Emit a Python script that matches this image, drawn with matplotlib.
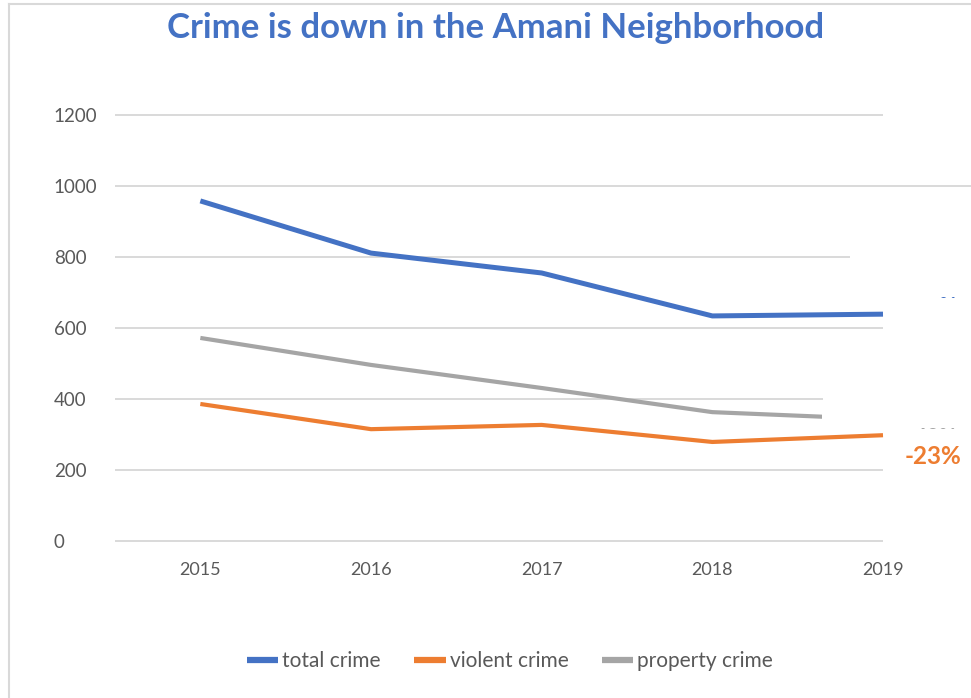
import numpy as np
import matplotlib.pyplot as plt
from matplotlib.patches import Rectangle

years = ["2015", "2016", "2017", "2018", "2019"]
total_crime = [958, 811, 755, 634, 639]
violent_crime = [386, 315, 327, 279, 298]
property_crime = [572, 496, 431, 363, 343]

BLUE = "#4472C4"
ORANGE = "#ED7D31"
GRAY = "#A5A5A5"
TEXT = "#595959"
GRID = "#D9D9D9"

plt.rcParams['font.family'] = ['Lato', 'DejaVu Sans']

fig = plt.figure(figsize=(9.71, 6.98), dpi=100)
W, H = 971, 698


def fx(px):
    return px / W


def fy(py):
    return 1 - py / H


ax = fig.add_axes([fx(115), fy(541), fx(883) - fx(115), fy(115) - fy(541)])
ax.set_xlim(-0.5, 4.0)
ax.set_ylim(0, 1200)
for s in ax.spines.values():
    s.set_visible(False)

x = np.arange(len(years))
to_data = lambda px: (px - 200) / 170.75

# gridlines end at uneven places
grid_ends = {0: 4.0, 200: 4.0, 400: to_data(823), 600: 4.0,
             800: to_data(850), 1000: to_data(975), 1200: 4.0}
for yv, xe in grid_ends.items():
    ax.plot([-0.5, xe], [yv, yv], color=GRID, lw=1.4, zorder=1,
            clip_on=False, solid_capstyle='butt')

ax.plot(x, total_crime, color=BLUE, lw=3.6, zorder=3, label="total crime",
        solid_capstyle='butt', clip_on=False)
ax.plot(x, violent_crime, color=ORANGE, lw=3.0, zorder=3, label="violent crime",
        solid_capstyle='butt', clip_on=False)
prop_line, = ax.plot(x, property_crime, color=GRAY, lw=3.0, zorder=3,
                     label="property crime", solid_capstyle='butt')
clip = Rectangle((-0.5, 0), to_data(822) + 0.5, 1200, transform=ax.transData)
prop_line.set_clip_path(clip)

ax.set_xticks(x)
ax.set_xticklabels(years)
ax.set_yticks(range(0, 1201, 200))
ax.tick_params(length=0, colors=TEXT)
ax.tick_params(axis='x', pad=15, labelsize=13)
ax.tick_params(axis='y', pad=44, labelsize=13.5)
for lbl in ax.get_yticklabels():
    lbl.set_horizontalalignment('left')

# end-of-line change labels
pct = round((violent_crime[-1] - violent_crime[0]) / violent_crime[0] * 100)
fig.text(fx(933), fy(457), f"{pct}%", color=ORANGE, fontsize=17.5,
         fontweight='bold', ha='center', va='center')

# partly hidden labels, only a sliver shows
pct_t = round((total_crime[-1] - total_crime[0]) / total_crime[0] * 100)
t1 = fig.text(fx(932), fy(306), f"{pct_t}%", color=BLUE, fontsize=15,
              fontweight='bold', ha='center', va='center')
t1.set_clip_path(Rectangle((940, H - 298), 22, 3, transform=None))
pct_p = round((property_crime[-1] - property_crime[0]) / property_crime[0] * 100)
t2 = fig.text(fx(932), fy(437), f"{pct_p}%", color=GRAY, fontsize=15,
              fontweight='bold', ha='center', va='center')
t2.set_clip_path(Rectangle((915, H - 429), 48, 3, transform=None))

fig.text(fx(496), fy(28), "Crime is down in the Amani Neighborhood", color=BLUE,
         fontsize=25, fontweight='bold', ha='center', va='center')

leg = fig.legend(loc='center', bbox_to_anchor=(fx(510), fy(661)), ncol=3,
                 frameon=False, fontsize=15, handlelength=1.5,
                 handletextpad=0.2, columnspacing=1.6, labelcolor=TEXT)
for h in leg.legend_handles:
    h.set_linewidth(4.5)

# outer chart border
fig.add_artist(plt.Line2D([fx(9), fx(9)], [fy(4), 0], color=GRID, lw=1.5))
fig.add_artist(plt.Line2D([fx(9), 1], [fy(4), fy(4)], color=GRID, lw=1.5))

fig.savefig("out.png", dpi=100)
